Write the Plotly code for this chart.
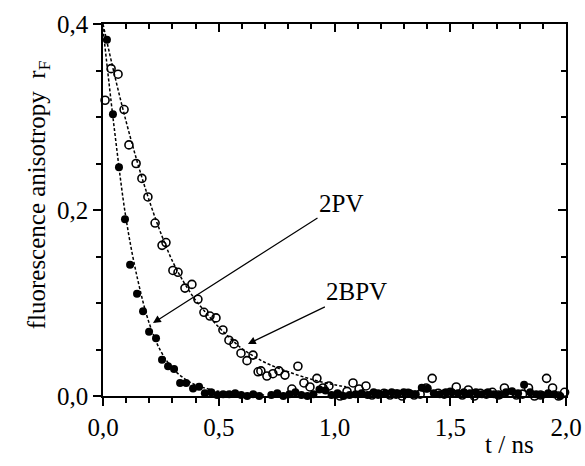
import plotly.graph_objects as go

# 2PV (filled circles): time / ns and anisotropy
pv_t = [0.017, 0.043, 0.069, 0.095, 0.117, 0.147, 0.173, 0.199, 0.229, 0.255,
        0.281, 0.307, 0.333, 0.359, 0.389, 0.415, 0.440, 0.467, 0.493, 0.519,
        0.545, 0.571, 0.597, 0.623, 0.649, 0.675, 0.701, 0.727, 0.753, 0.779,
        0.805, 0.831, 0.857, 0.883, 0.909, 0.935, 0.961, 0.987, 1.013, 1.039,
        1.065, 1.091, 1.117, 1.143, 1.169, 1.195, 1.221, 1.247, 1.273, 1.299,
        1.325, 1.351, 1.377, 1.403, 1.429, 1.455, 1.481, 1.507, 1.533, 1.559,
        1.585, 1.611, 1.637, 1.663, 1.689, 1.715, 1.741, 1.767, 1.793, 1.819,
        1.845, 1.871, 1.897, 1.923, 1.949, 1.975]
pv_r = [0.383, 0.303, 0.246, 0.190, 0.141, 0.110, 0.091, 0.069, 0.062, 0.039,
        0.032, 0.029, 0.014, 0.014, 0.008, 0.010, 0.003, 0.004, 0.001, 0.002,
        0.002, 0.003, 0.001, 0.000, 0.002, 0.000, -0.001, 0.001, 0.003, 0.000,
        0.002, 0.004, 0.001, 0.000, 0.002, 0.007, 0.006, 0.001, 0.003, 0.000,
        0.001, 0.002, 0.003, 0.001, 0.004, 0.002, 0.003, 0.004, 0.003, 0.004,
        0.003, 0.002, 0.009, 0.008, 0.003, 0.002, 0.004, 0.004, 0.003, 0.004,
        0.003, 0.004, 0.002, 0.004, 0.002, 0.001, 0.004, 0.005, 0.003, 0.012,
        0.004, 0.002, 0.001, 0.003, 0.002, 0.000]

# 2BPV (open circles)
bpv_t = [0.009, 0.035, 0.065, 0.091, 0.112, 0.143, 0.168, 0.194, 0.225, 0.255,
         0.272, 0.302, 0.324, 0.354, 0.384, 0.410, 0.436, 0.462, 0.488, 0.518,
         0.544, 0.566, 0.596, 0.622, 0.648, 0.670, 0.682, 0.708, 0.734, 0.760,
         0.786, 0.816, 0.842, 0.868, 0.894, 0.924, 0.950, 0.976, 1.024, 1.054,
         1.080, 1.106, 1.136, 1.162, 1.188, 1.214, 1.240, 1.266, 1.292, 1.318,
         1.344, 1.370, 1.396, 1.422, 1.448, 1.474, 1.500, 1.526, 1.552, 1.578,
         1.604, 1.630, 1.656, 1.682, 1.708, 1.734, 1.760, 1.786, 1.812, 1.838,
         1.864, 1.890, 1.916, 1.942, 1.968, 1.994]
bpv_r = [0.318, 0.352, 0.346, 0.308, 0.270, 0.250, 0.234, 0.214, 0.186, 0.162,
         0.165, 0.135, 0.133, 0.116, 0.120, 0.104, 0.090, 0.086, 0.084, 0.071,
         0.060, 0.056, 0.046, 0.038, 0.044, 0.026, 0.027, 0.0215, 0.024, 0.027,
         0.0225, 0.0075, 0.032, 0.014, 0.0097, 0.019, 0.0086, 0.0108, 0.000, 0.005,
         0.014, 0.0075, 0.0108, 0.001, 0.002, 0.003, 0.001, 0.002, 0.000, 0.003,
         0.001, 0.002, 0.0086, 0.019, 0.003, 0.002, 0.004, 0.0097, 0.001, 0.0065,
         0.000, 0.003, 0.002, 0.004, 0.001, 0.0086, 0.003, 0.001, 0.002, 0.0086,
         0.000, 0.001, 0.019, 0.0086, 0.000, 0.004]

# fitted decay curves (dashed)
pv_fit_t = [0.0, 0.05, 0.1, 0.15, 0.2, 0.25, 0.3, 0.35, 0.4, 0.5, 0.6, 0.7]
pv_fit_r = [0.395, 0.285, 0.19, 0.125, 0.078, 0.048, 0.03, 0.019, 0.012, 0.005, 0.002, 0.001]
bpv_fit_t = [0.0, 0.05, 0.1, 0.15, 0.2, 0.25, 0.3, 0.35, 0.4, 0.45, 0.5, 0.55,
             0.6, 0.65, 0.7, 0.8, 0.9, 1.0, 1.05]
bpv_fit_r = [0.40, 0.345, 0.295, 0.25, 0.21, 0.175, 0.145, 0.122, 0.103, 0.088,
             0.074, 0.062, 0.051, 0.043, 0.036, 0.026, 0.018, 0.012, 0.010]

x_ticks = [0.0, 0.5, 1.0, 1.5, 2.0]
x_labels = ["0,0", "0,5", "1,0", "1,5", "2,0"]
y_ticks = [0.0, 0.2, 0.4]
y_labels = ["0,0", "0,2", "0,4"]

SERIF = "Liberation Serif, Times New Roman, serif"
FS = 25
X_RANGE = [0, 2.0]
Y_RANGE = [0, 0.4]

fig = go.Figure()
dash = dict(color="black", width=1.5, dash="3px,2px")
fig.add_trace(go.Scatter(x=bpv_fit_t, y=bpv_fit_r, mode="lines", line=dict(shape="spline", **dash)))
fig.add_trace(go.Scatter(x=pv_fit_t, y=pv_fit_r, mode="lines", line=dict(shape="spline", **dash)))
fig.add_trace(go.Scatter(
    x=bpv_t, y=bpv_r, mode="markers", cliponaxis=False,
    marker=dict(symbol="circle-open", size=8, color="black", line=dict(width=1.6)),
))
fig.add_trace(go.Scatter(
    x=pv_t, y=pv_r, mode="markers", cliponaxis=False,
    marker=dict(symbol="circle", size=8, color="black"),
))
# hidden trace to drive the mirrored top/right axes
fig.add_trace(go.Scatter(x=[], y=[], xaxis="x2", yaxis="y2", showlegend=False))

common = dict(showline=True, linecolor="black", linewidth=1.5, showgrid=False,
              zeroline=False, tickcolor="black", tickwidth=1.5, automargin=False)
fig.update_layout(
    template="none",
    width=585, height=466,
    margin=dict(l=103, r=19, t=24, b=70, autoexpand=False),
    plot_bgcolor="white", paper_bgcolor="white",
    showlegend=False,
    font=dict(family=SERIF, size=FS, color="black"),
    xaxis=dict(range=X_RANGE, tickvals=x_ticks, ticktext=x_labels, ticks="outside",
               ticklen=8, minor=dict(ticks="outside", dtick=0.1, ticklen=5,
                                     tickcolor="black", tickwidth=1.5), **common),
    yaxis=dict(range=Y_RANGE, tickvals=y_ticks, ticktext=y_labels, ticks="outside",
               ticklen=8, minor=dict(ticks="outside", dtick=0.05, ticklen=5,
                                     tickcolor="black", tickwidth=1.5), **common),
    xaxis2=dict(range=X_RANGE, overlaying="x", side="top", anchor="y",
                tickvals=x_ticks, showticklabels=False, ticks="inside", ticklen=8,
                minor=dict(ticks="inside", dtick=0.1, ticklen=5,
                           tickcolor="black", tickwidth=1.5), **common),
    yaxis2=dict(range=Y_RANGE, overlaying="y", side="right", anchor="x",
                tickvals=y_ticks, showticklabels=False, ticks="inside", ticklen=8,
                minor=dict(ticks="inside", dtick=0.05, ticklen=5,
                           tickcolor="black", tickwidth=1.5), **common),
)

# axis titles
fig.add_annotation(text="fluorescence anisotropy  r<sub>F</sub>", xref="paper", yref="paper",
                   x=-0.14, y=0.54, textangle=-90, showarrow=False,
                   font=dict(family=SERIF, size=25), xanchor="center", yanchor="middle")
fig.add_annotation(text="t / ns", xref="paper", yref="paper", x=0.878, y=-0.13,
                   showarrow=False, font=dict(family=SERIF, size=FS),
                   xanchor="center", yanchor="middle")

# labels with arrows (text sits at the arrow tail)
arrow = dict(showarrow=True, arrowhead=2, arrowsize=1.3, arrowwidth=1.2,
             arrowcolor="black", axref="x", ayref="y", font=dict(family=SERIF, size=FS))
fig.add_annotation(text="2PV", x=0.216, y=0.0785, ax=1.028, ay=0.2075, **arrow)
fig.add_annotation(text="2BPV", x=0.626, y=0.056, ax=1.093, ay=0.112, **arrow)

# drop the default page margin so the figure fills the window exactly
fig.write_html("out.html", config={"displayModeBar": False},
               post_script="document.body.style.margin = '0px';")
